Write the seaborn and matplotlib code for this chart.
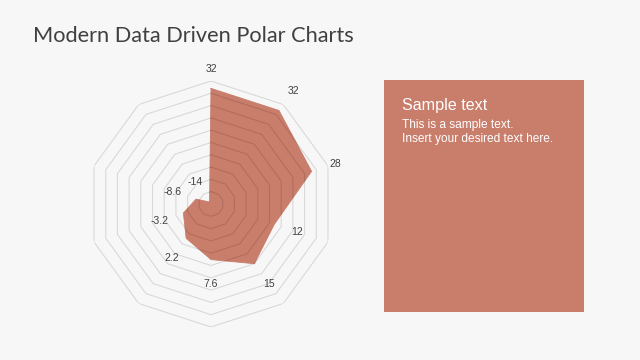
import numpy as np
import matplotlib
matplotlib.use("Agg")
import matplotlib.pyplot as plt
from matplotlib.patches import Rectangle
import seaborn as sns

# ---- data ----
categories = ["C1", "C2", "C3", "C4", "C5", "C6", "C7", "C8", "C9", "C10"]
values = [32, 32, 28, 12, 15, 7.6, 2.2, -3.2, -8.6, -14]
value_labels = ["32", "32", "28", "12", "15", "7.6", "2.2", "-3.2", "-8.6", "-14"]
r_min, r_max, r_step = -15, 35, 5

title = "Modern Data Driven Polar Charts"
box_title = "Sample text"
box_lines = ["This is a sample text.", "Insert your desired text here."]

# ---- style ----
BG = "#f7f7f7"
FILL = "#c97d6b"
sns.set_theme(style="white", rc={"figure.facecolor": BG, "axes.facecolor": "none"})
plt.rcParams["font.family"] = ["Liberation Sans", "DejaVu Sans"]

W, H = 640, 360
fig = plt.figure(figsize=(W / 100, H / 100), dpi=100)
fig.patch.set_facecolor(BG)

cx, cy, R = 211, 204, 123
ax = fig.add_axes([(cx - R) / W, (H - cy - R) / H, 2 * R / W, 2 * R / H], projection="polar")
ax.set_theta_zero_location("N")
ax.set_theta_direction(-1)
ax.set_facecolor("none")

n = len(categories)
angles = np.linspace(0, 2 * np.pi, n, endpoint=False)
ang_c = np.append(angles, angles[0])
val_c = np.append(values, values[0])

ax.fill(ang_c, val_c, color=FILL, alpha=1.0, zorder=2, linewidth=0)
sns.lineplot(x=ang_c, y=val_c, sort=False, estimator=None, ax=ax,
             color=FILL, linewidth=0.6, zorder=2)

# polygon grid rings
for lvl in np.arange(r_min + r_step, r_max + 0.01, r_step):
    ax.plot(ang_c, [lvl] * (n + 1), color=(0, 0, 0, 0.12), linewidth=0.8, zorder=3)

ax.set_ylim(r_min, r_max)
ax.grid(False)
ax.spines["polar"].set_visible(False)
ax.set_xticks([])
ax.set_yticks([])
ax.set_xlabel("")
ax.set_ylabel("")

# data labels outside each point
for a, v, lab in zip(angles, values, value_labels):
    off = 8 if a == 0 else 10
    ax.text(a, v + off, lab, ha="center", va="center", fontsize=7.5,
            color="#404040", zorder=5)

# title
fig.text(33 / W, 1 - 41.7 / H, title, fontsize=15.7, color="#404040",
         family=["Lato", "DejaVu Sans"], ha="left", va="baseline")

# right text box
bx0, by0, bx1, by1 = 384, 80, 584, 311.5
fig.patches.append(Rectangle((bx0 / W, 1 - by1 / H), (bx1 - bx0) / W, (by1 - by0) / H,
                             transform=fig.transFigure, facecolor=FILL, edgecolor="none",
                             zorder=0))
fig.text(402 / W, 1 - 110 / H, box_title, fontsize=11.6, color="white",
         ha="left", va="baseline")
for i, line in enumerate(box_lines):
    fig.text(402 / W, 1 - (128.3 + i * 13.4) / H, line, fontsize=8.6, color="white",
             ha="left", va="baseline")

fig.savefig("out.png", dpi=100, facecolor=BG)
